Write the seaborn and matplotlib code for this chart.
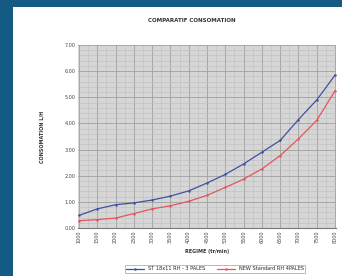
import matplotlib
matplotlib.use("Agg")
import matplotlib.pyplot as plt
import seaborn as sns
import pandas as pd
from matplotlib.ticker import MultipleLocator

regimes = ["1000", "1500", "2000", "2500", "3000", "3500", "4000", "4500",
           "5000", "5500", "6000", "6500", "7000", "7500", "8000"]
st_3pales = [0.48, 0.73, 0.89, 0.96, 1.07, 1.22, 1.42, 1.72, 2.05, 2.45, 2.90, 3.35, 4.15, 4.90, 5.85]
new_4pales = [0.28, 0.32, 0.38, 0.55, 0.73, 0.85, 1.02, 1.25, 1.55, 1.87, 2.26, 2.77, 3.41, 4.12, 5.25]
series_names = ["ST 18x11 RH - 3 PALES", "NEW Standard RH 4PALES"]

df = pd.DataFrame({
    "regime": regimes * 2,
    "pos": list(range(len(regimes))) * 2,
    "conso": st_3pales + new_4pales,
    "serie": [series_names[0]] * len(regimes) + [series_names[1]] * len(regimes),
})

sns.set_style("white")
fig = plt.figure(figsize=(3.42, 2.76), dpi=100, facecolor="#135b82")
bg = fig.add_axes([13/342, 0, 1 - 13/342, 1 - 7/276], zorder=-10)
bg.set_facecolor("white")
bg.set_xticks([]); bg.set_yticks([])
for s in bg.spines.values():
    s.set_visible(False)

ax = fig.add_axes([78/342, 1 - 228/276, (336-78)/342, (228-45)/276])
ax.set_facecolor("#d6d6d6")

sns.lineplot(data=df, x="pos", y="conso", hue="serie", ax=ax,
             palette=["#3f52a0", "#e45560"], marker="o", markersize=1.8,
             markeredgewidth=0, linewidth=0.9, legend=True)

ax.set_ylim(0, 7)
ax.set_xlim(-0.05, len(regimes) - 1 + 0.05)
ax.yaxis.set_minor_locator(MultipleLocator(0.2))
ax.set_xticks(range(len(regimes)))
ax.set_xticks([i + 0.5 for i in range(len(regimes) - 1)], minor=True)
ax.set_yticks(range(8))
ax.set_yticklabels([f"{v:.2f}" for v in range(8)], fontsize=3.5, color="#444444")
ax.set_xticklabels(regimes, rotation=90, fontsize=3.5, color="#444444")
ax.grid(True, which="major", color="#a0a0a0", linewidth=0.6)
ax.grid(True, which="minor", color="#bdbdbd", linewidth=0.4)
ax.tick_params(axis="both", which="both", length=0, pad=2)
for s in ax.spines.values():
    s.set_visible(False)
ax.spines["bottom"].set_visible(True)
ax.spines["bottom"].set_color("#777777")

ax.set_xlabel("REGIME (tr/min)", fontsize=3.5, fontweight="bold", color="#333333", labelpad=4)
ax.set_ylabel("CONSOMATION L/H", fontsize=3.5, fontweight="bold", color="#333333", labelpad=14)
fig.text(0.56, 1 - 20/276, "COMPARATIF CONSOMATION", ha="center", va="center",
         fontsize=4, fontweight="bold", color="#333333")

handles, labels = ax.get_legend_handles_labels()
leg = fig.legend(handles, labels, loc="center", bbox_to_anchor=(215/342, 1 - 269/276), ncol=2,
                 fontsize=3.6, frameon=True, handlelength=3.5, borderpad=0.3,
                 columnspacing=2.5, fancybox=False)
ax.get_legend().remove()
leg.get_frame().set_edgecolor("#888888")
leg.get_frame().set_linewidth(0.5)

fig.savefig("out.png", dpi=100, facecolor=fig.get_facecolor())
